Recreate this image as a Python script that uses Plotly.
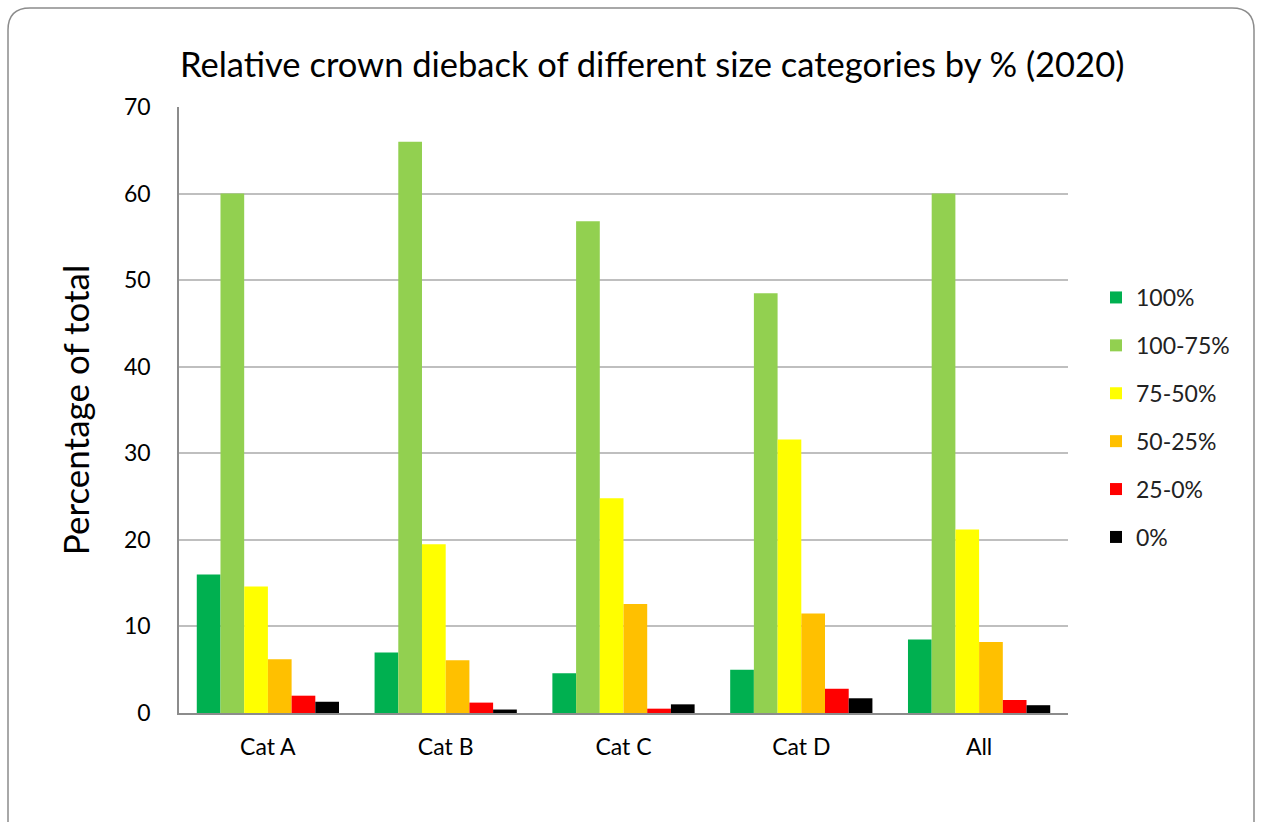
import plotly.graph_objects as go

categories = ["Cat A", "Cat B", "Cat C", "Cat D", "All"]
series_names = ["100%", "100-75%", "75-50%", "50-25%", "25-0%", "0%"]
v_100 = [16.0, 7.0, 4.6, 5.0, 8.5]
v_100_75 = [60.0, 66.0, 56.8, 48.5, 60.0]
v_75_50 = [14.6, 19.5, 24.8, 31.6, 21.2]
v_50_25 = [6.2, 6.1, 12.6, 11.5, 8.2]
v_25_0 = [2.0, 1.2, 0.5, 2.8, 1.5]
v_0 = [1.3, 0.4, 1.0, 1.7, 0.9]
series_values = [v_100, v_100_75, v_75_50, v_50_25, v_25_0, v_0]
colors = ["#00B050", "#92D050", "#FFFF00", "#FFC000", "#FF0000", "#000000"]
y_ticks = [0, 10, 20, 30, 40, 50, 60, 70]

FONT = "Lato, 'Open Sans', sans-serif"

fig = go.Figure()
for i, (name, vals, col) in enumerate(zip(series_names, series_values, colors)):
    fig.add_trace(go.Bar(name=name, x=categories, y=vals, marker_color=col,
                         marker_line_width=0, legendgroup=f"g{i}"))

W, H = 1262, 822
L, R, T, B = 179, 1068, 107, 713
pw, ph = R - L, B - T

def px(x):
    return (x - L) / pw

def py(y):
    return (B - y) / ph

# rounded outer border
x0, x1, y0, y1, r = 8, 1254, 8, 840, 22
path = (f"M {px(x0+r)},{py(y0)} L {px(x1-r)},{py(y0)} Q {px(x1)},{py(y0)} {px(x1)},{py(y0+r)} "
        f"L {px(x1)},{py(y1)} L {px(x0)},{py(y1)} L {px(x0)},{py(y0+r)} Q {px(x0)},{py(y0)} {px(x0+r)},{py(y0)} Z")

fig.update_layout(
    width=W, height=H,
    margin=dict(l=L, r=W - R, t=T, b=H - B, autoexpand=False),
    paper_bgcolor="white", plot_bgcolor="white",
    font=dict(family=FONT, color="#000000"),
    title=dict(text="Relative crown dieback of different size categories by % (2020)",
               x=0.5168, xanchor="center", y=1 - 65 / H, yanchor="middle",
               font=dict(size=34.5, family=FONT, color="#000000")),
    barmode="group", bargap=0.2, bargroupgap=0,
    xaxis=dict(showgrid=False, showline=True, linecolor="#8c8c8c", linewidth=2,
               tickfont=dict(size=23, family=FONT), ticks="", ticklabelstandoff=12),
    yaxis=dict(range=[0, 70], tickvals=y_ticks, showgrid=True, gridcolor="#bfbfbf", gridwidth=1.5,
               showline=True, linecolor="#8c8c8c", linewidth=1.5, zeroline=False,
               tickfont=dict(size=23, family=FONT), ticks="", ticklabelstandoff=22,
               title=dict(text="Percentage of total", font=dict(size=35, family=FONT), standoff=24)),
    legend=dict(x=px(1096), y=py(276), xanchor="left", yanchor="top",
                font=dict(size=23, family=FONT, color="#222222"),
                tracegroupgap=15, traceorder="grouped", itemwidth=30, bgcolor="rgba(0,0,0,0)"),
    shapes=[dict(type="path", path=path, xref="paper", yref="paper",
                 line=dict(color="#8c8c8c", width=1.5), fillcolor="rgba(0,0,0,0)", layer="below")],
)

fig.write_html("out.html")
